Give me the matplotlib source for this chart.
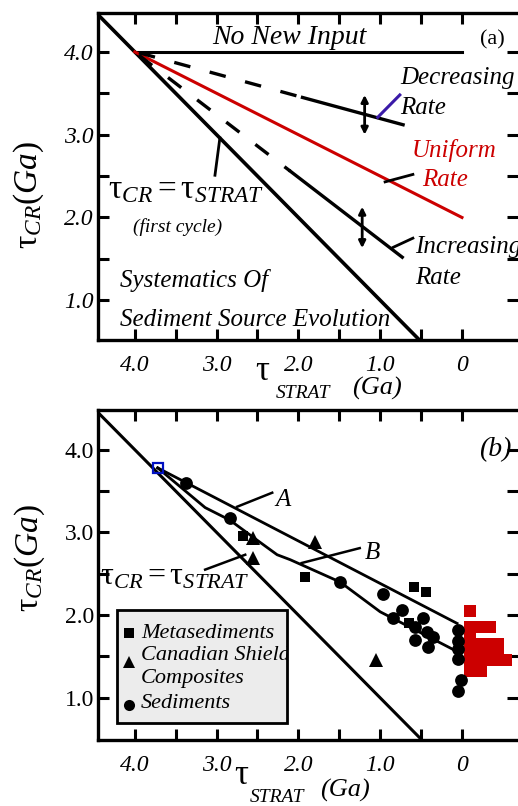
import matplotlib
matplotlib.use("Agg")
import matplotlib.pyplot as plt
from matplotlib.patches import Rectangle
from matplotlib.transforms import Bbox, TransformedBbox

plt.rcParams['font.family'] = ['Liberation Serif', 'DejaVu Serif']
plt.rcParams['mathtext.fontset'] = 'custom'
plt.rcParams['mathtext.rm'] = 'Liberation Serif'
plt.rcParams['mathtext.it'] = 'Liberation Serif:italic'
plt.rcParams['mathtext.bf'] = 'Liberation Serif:bold'

# ---------------- data ----------------
x_major = [4.0, 3.0, 2.0, 1.0, 0.0]
x_labels = ["4.0", "3.0", "2.0", "1.0", "0"]
x_minor = [3.5, 2.5, 1.5, 0.5]
y_major = [4.0, 3.0, 2.0, 1.0]
y_labels = ["4.0", "3.0", "2.0", "1.0"]
y_minor = [3.5, 2.5, 1.5]

# panel (a) model curves
one_to_one = [4.6, 0.4]
no_input_x = [4.0, 0.0]
no_input_y = [4.0, 4.0]
uniform_x = [4.0, 0.0]
uniform_y = [4.0, 2.0]
decr_dash_x = [3.95, 1.95]
decr_dash_y = [3.99, 3.45]
decr_solid_x = [1.95, 0.72]
decr_solid_y = [3.45, 3.12]
incr_dash_x = [3.95, 2.10]
incr_dash_y = [3.96, 2.56]
incr_solid_x = [2.10, 0.73]
incr_solid_y = [2.56, 1.52]

# panel (b) data
start_x, start_y = [3.72], [3.78]
line_a_x = [3.72, 0.06]
line_a_y = [3.78, 1.90]
line_b_x = [3.72, 3.14, 2.84, 2.51, 2.26, 2.10, 1.49, 1.00, 0.06]
line_b_y = [3.78, 3.30, 3.15, 2.91, 2.73, 2.67, 2.40, 2.04, 1.56]

meta_x = [2.68, 1.92, 0.59, 0.44, 0.65]
meta_y = [2.96, 2.46, 2.34, 2.28, 1.90]
shield_x = [2.56, 2.56, 1.80, 1.05]
shield_y = [2.93, 2.69, 2.89, 1.46]
sed_x = [3.38, 2.84, 1.49, 0.97, 0.73, 0.84, 0.48, 0.57, 0.43, 0.57, 0.35, 0.42,
         0.05, 0.05, 0.05, 0.05, 0.01, 0.05]
sed_y = [3.60, 3.18, 2.40, 2.25, 2.06, 1.96, 1.96, 1.86, 1.80, 1.70, 1.74, 1.62,
         1.82, 1.69, 1.59, 1.47, 1.22, 1.08]
modern_x = [-0.10,
            -0.10, -0.23, -0.34,
            -0.10,
            -0.10, -0.23, -0.37, -0.44,
            -0.10, -0.23, -0.37, -0.44,
            -0.10, -0.23, -0.37, -0.50, -0.54,
            -0.10, -0.23]
modern_y = [2.05,
            1.86, 1.86, 1.86,
            1.76,
            1.65, 1.65, 1.65, 1.65,
            1.56, 1.56, 1.56, 1.56,
            1.46, 1.46, 1.46, 1.46, 1.46,
            1.33, 1.33]

W, H = 518, 806
fig = plt.figure(figsize=(W / 100, H / 100), dpi=100)


def F(px, py):
    return px / W, 1 - py / H


def style_axes(ax, ylim, italic_y):
    ax.set_xlim(4.45, -0.685)
    ax.set_ylim(*ylim)
    for s in ['left', 'bottom', 'top']:
        ax.spines[s].set_linewidth(2.4)
    ax.spines['right'].set_visible(False)
    ax.set_xticks(x_major, x_labels, fontsize=17, fontstyle='italic')
    ax.set_xticks(x_minor, minor=True)
    ax.set_yticks(y_major, y_labels, fontsize=17,
                  fontstyle='italic' if italic_y else 'normal')
    ax.set_yticks(y_minor, minor=True)
    ax.tick_params(which='both', direction='in', length=8, width=2.2,
                   top=True, right=True)
    ax.tick_params(axis='x', which='major', pad=11)
    ax.tick_params(axis='y', which='major', pad=3)


TAU_EQ = r'$\mathrm{\tau}_{CR} = \mathrm{\tau}_{STRAT}$'
TAU_Y = r'$\mathrm{\tau}_{CR}(Ga)$'

# ---------------- panel (a) ----------------
ax1 = fig.add_axes([98 / W, 1 - 340 / H, (518 - 98) / W, (340 - 13) / H])
style_axes(ax1, (0.52, 4.47), True)
ax1.plot(one_to_one, one_to_one, color='black', lw=2.6, solid_capstyle='butt')
ax1.plot(no_input_x, no_input_y, color='black', lw=2.2)
ax1.plot(uniform_x, uniform_y, color='#cc0000', lw=2.2)
ax1.plot(decr_dash_x, decr_dash_y, color='black', lw=2.4, ls=(0, (5, 6)))
ax1.plot(decr_solid_x, decr_solid_y, color='black', lw=2.4)
ax1.plot(incr_dash_x, incr_dash_y, color='black', lw=2.4, ls=(0, (5, 6)))
ax1.plot(incr_solid_x, incr_solid_y, color='black', lw=2.4)
# pointer lines
ax1.plot([1.03, 0.76], [3.21, 3.48], color='#3a1aa8', lw=2.2)
ax1.plot([0.94, 0.60], [2.43, 2.52], color='black', lw=2.0)
ax1.plot([0.84, 0.60], [1.64, 1.75], color='black', lw=2.0)
ax1.plot([2.96, 3.02], [2.96, 2.51], color='black', lw=2.0)
for xa, y0, y1 in [(1.19, 3.0, 3.48), (1.22, 1.63, 2.13)]:
    ax1.annotate('', xy=(xa, y1), xytext=(xa, y0),
                 arrowprops=dict(arrowstyle='<|-|>', color='black', lw=2.0,
                                 mutation_scale=10, shrinkA=0, shrinkB=0))

fig.text(*F(289, 37), 'No New Input', fontsize=20, style='italic',
         ha='center', va='center')
fig.text(*F(492, 40), '(a)', fontsize=16, ha='center', va='center')
fig.text(*F(400, 78), 'Decreasing', fontsize=18, style='italic', va='center')
fig.text(*F(400, 108), 'Rate', fontsize=18, style='italic', va='center')
fig.text(*F(412, 150), 'Uniform', fontsize=18, style='italic', va='center',
         color='#cc0000')
fig.text(*F(422, 180), 'Rate', fontsize=18, style='italic', va='center',
         color='#cc0000')
fig.text(*F(415, 247), 'Increasing', fontsize=18, style='italic', va='center')
fig.text(*F(415, 278), 'Rate', fontsize=18, style='italic', va='center')
fig.text(*F(108, 190), TAU_EQ, fontsize=24, va='center')
fig.text(*F(133, 227), '(first cycle)', fontsize=14, style='italic',
         va='center')
fig.text(*F(120, 280), 'Systematics Of', fontsize=18, style='italic',
         va='center')
fig.text(*F(120, 320), 'Sediment Source Evolution', fontsize=18,
         style='italic', va='center')
fig.text(*F(29, 195), TAU_Y, fontsize=24, rotation=90, ha='center',
         va='center')
fig.text(*F(263, 372), r'$\mathrm{\tau}$', fontsize=25, ha='center',
         va='center')
fig.text(*F(303, 393), 'STRAT', fontsize=14, style='italic', ha='center',
         va='center')
fig.text(*F(377, 388), '(Ga)', fontsize=19, style='italic', ha='center',
         va='center')

# ---------------- panel (b) ----------------
ax2 = fig.add_axes([98 / W, 1 - 740 / H, (518 - 98) / W, (740 - 410) / H])
style_axes(ax2, (0.49, 4.48), False)
ax2.plot(one_to_one, one_to_one, color='black', lw=2.2)
ax2.plot(line_a_x, line_a_y, color='black', lw=2.0)
ax2.plot(line_b_x, line_b_y, color='black', lw=2.0)
ax2.plot([2.75, 2.32], [3.31, 3.48], color='black', lw=1.8)
ax2.plot([1.96, 1.25], [2.63, 2.81], color='black', lw=1.8)
ax2.plot([3.14, 2.65], [2.55, 2.73], color='black', lw=1.8)
ax2.plot(modern_x, modern_y, ls='none', marker='s', ms=8.6, mew=0,
         color='#cc0000', zorder=4)
ax2.plot(meta_x, meta_y, ls='none', marker='s', ms=7.6, mew=0,
         color='black', zorder=5)
ax2.plot(shield_x, shield_y, ls='none', marker='^', ms=9.5, mew=0,
         color='black', zorder=5)
ax2.plot(sed_x, sed_y, ls='none', marker='o', ms=9.2, mew=0,
         color='black', zorder=5)
ax2.plot(start_x, start_y, ls='none', marker='s', ms=7.2, mew=1.6,
         mfc='none', mec='#0010c0', zorder=6)

fig.text(*F(495, 450), '(b)', fontsize=20, style='italic', ha='center',
         va='center')
fig.text(*F(283, 500), 'A', fontsize=18, style='italic', ha='center',
         va='center')
fig.text(*F(372, 553), 'B', fontsize=18, style='italic', ha='center',
         va='center')
fig.text(*F(100, 577), TAU_EQ, fontsize=23, va='center')
fig.text(*F(30, 558), TAU_Y, fontsize=24, rotation=90, ha='center',
         va='center')
fig.text(*F(242, 776), r'$\mathrm{\tau}$', fontsize=25, ha='center',
         va='center')
fig.text(*F(277, 798), 'STRAT', fontsize=14, style='italic', ha='center',
         va='center')
fig.text(*F(345, 790), '(Ga)', fontsize=19, style='italic', ha='center',
         va='center')

# legend box (axes fraction)
ax_w, ax_h = 420, 330
bx0, by0 = (117 - 98) / ax_w, (740 - 723) / ax_h
bx1, by1 = (287 - 98) / ax_w, (740 - 610) / ax_h
rect = Rectangle((bx0, by0), bx1 - bx0, by1 - by0, transform=ax2.transAxes,
                 facecolor='#ececec', edgecolor='black', lw=2.0, zorder=7)
ax2.add_patch(rect)
clip = TransformedBbox(Bbox([[bx0, by0], [bx1, by1]]), ax2.transAxes)


def axfrac(px, py):
    return (px - 98) / ax_w, (740 - py) / ax_h


leg_items = [('s', 633, 7.0), ('^', 662, 8.0), ('o', 705, 8.0)]
for mk, py, ms in leg_items:
    ax2.plot(*axfrac(129, py), marker=mk, ms=ms, mew=0, color='black',
             transform=ax2.transAxes, zorder=8, clip_on=False)
leg_texts = [(633, 'Metasediments'), (656, 'Canadian Shield'),
             (678, 'Composites'), (703, 'Sediments')]
for py, label in leg_texts:
    t = ax2.text(*axfrac(141, py), label, fontsize=16, style='italic',
                 va='center', transform=ax2.transAxes, zorder=8)
    t.set_clip_box(clip)
    t.set_clip_on(True)

fig.savefig('out.png', dpi=100)
